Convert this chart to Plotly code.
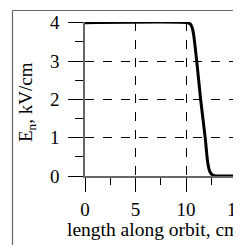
import plotly.graph_objects as go

x_cm = [0, 10.2, 10.45, 10.6, 10.75, 11.06, 11.45, 11.9, 12.15, 12.35, 12.55, 12.8, 13.1, 15.0]
e_n = [4, 4, 3.96, 3.88, 3.7, 3.0, 2.0, 1.0, 0.35, 0.12, 0.04, 0.01, 0.0, 0.0]

x_ticks = [0, 5, 10, 15]
y_ticks = [0, 1, 2, 3, 4]

OFF = 8  # default page body margin; page px = svg px + OFF
W, H = 241, 245
L, T = 85 - OFF, 22 - OFF
B = H - (176 - OFF)
R = 0
PW, PH = W - L - R, H - T - B
PXU = 10.1  # px per cm
font = dict(family="Liberation Serif", size=19, color="black")
title_font = dict(family="Liberation Serif", size=19.5, color="black")


def px(page_x):
    return (page_x - 85) / PW


def py(page_y):
    return (176 - page_y) / PH


fig = go.Figure()
fig.add_trace(go.Scatter(x=x_cm, y=e_n, mode="lines", line=dict(color="black", width=3, shape="spline", smoothing=0.5),
                         hoverinfo="skip", showlegend=False))

fig.update_layout(
    width=W, height=H, margin=dict(l=L, r=R, t=T, b=B, autoexpand=False),
    paper_bgcolor="white", plot_bgcolor="white", font=font,
    xaxis=dict(range=[0, PW / PXU], tickvals=x_ticks, ticktext=[str(v) for v in x_ticks], tickfont=font,
               showline=True, linecolor="#666", linewidth=1.5,
               ticks="outside", ticklen=14, tickwidth=1.2, tickcolor="black",
               minor=dict(dtick=2.5, ticks="outside", ticklen=7, tickwidth=1.2, tickcolor="black", showgrid=False),
               showgrid=True, gridcolor="black", gridwidth=1, griddash="dash",
               zeroline=False, ticklabelstandoff=1, fixedrange=True),
    yaxis=dict(range=[0, 4.02], tickvals=y_ticks, ticktext=[str(v) for v in y_ticks], tickfont=font,
               showline=True, linecolor="#666", linewidth=1.5,
               ticks="outside", ticklen=15, tickwidth=1.2, tickcolor="black",
               minor=dict(dtick=0.5, ticks="outside", ticklen=8, tickwidth=1.2, tickcolor="black", showgrid=False),
               showgrid=True, gridcolor="black", gridwidth=1, griddash="dash",
               zeroline=False, ticklabelstandoff=5, fixedrange=True),
    annotations=[
        dict(text="length along orbit, cm", xref="paper", yref="paper",
             x=px(153), y=py(229),
             showarrow=False, xanchor="center", yanchor="middle", font=title_font),
        dict(text="E<sub>n</sub>, kV/cm", xref="paper", yref="paper",
             x=px(27), y=py(102),
             showarrow=False, xanchor="center", yanchor="middle", textangle=-90, font=font),
    ],
    shapes=[
        dict(type="line", xref="paper", yref="paper", x0=px(12.5), x1=px(12.5), y0=py(10.5), y1=py(250),
             line=dict(color="#666", width=1.2)),
        dict(type="line", xref="paper", yref="paper", x0=px(12.5), x1=px(247), y0=py(10.5), y1=py(10.5),
             line=dict(color="#666", width=1.2)),
    ],
)

fig.write_html("out.html")
